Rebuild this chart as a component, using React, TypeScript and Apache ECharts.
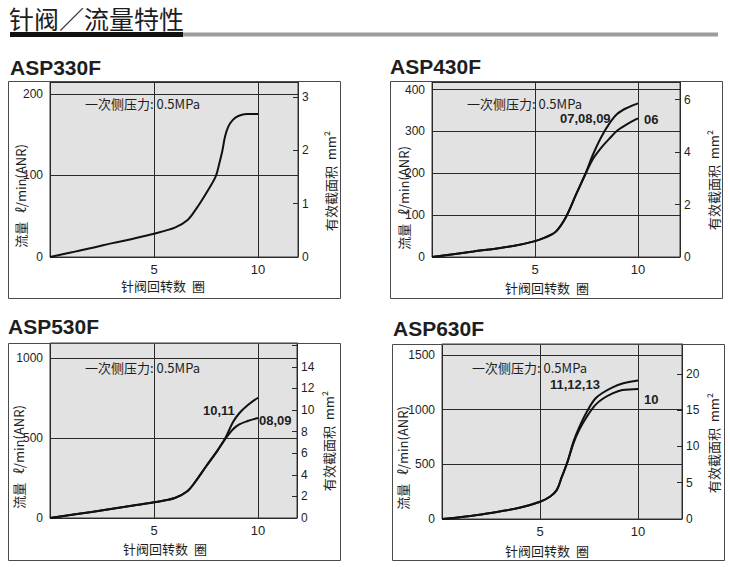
import React, { useEffect, useRef } from "react";
import * as echarts from "echarts";

// ---- data ----
const modelNames = ["ASP330F", "ASP430F", "ASP530F", "ASP630F"];
const pressureNote = "一次侧压力: 0.5MPa";
const xAxisTitle = "针阀回转数  圈";
const leftAxisTitle = "流量   ℓ/min(ANR)";
const rightAxisTitle = "有效截面积  mm²";
const pageTitle = "针阀／流量特性";

// ASP330F
const asp330Turns = [0, 1, 2, 3, 4, 5, 6, 6.6, 7.05, 7.5, 7.96, 8.14, 8.29, 8.41, 8.57, 8.78, 9.05, 9.46, 10];
const asp330Flow = [0, 5.5, 11, 17, 22.5, 28.5, 36, 45, 60, 78, 98.5, 115, 131, 147.6, 160, 168, 173, 175.5, 175.5];

// ASP430F
const asp430TurnsA = [0, 2, 4, 5, 5.5, 6, 6.5, 7, 7.5, 7.8, 8.2, 8.6, 9, 9.5, 10];
const asp430FlowA = [0, 13, 27, 38, 47, 60, 95, 150, 205, 243, 285, 318, 342, 357, 367];
const asp430TurnsB = [0, 2, 4, 5, 5.5, 6, 6.5, 7, 7.5, 7.8, 8.2, 8.6, 9, 9.5, 10];
const asp430FlowB = [0, 13, 27, 38, 47, 60, 95, 150, 203, 233, 260, 282, 302, 318, 331];
const asp430Labels = ["07,08,09", "06"];

// ASP530F
const asp530TurnsA = [0, 2, 4, 5, 6, 6.6, 7, 7.5, 8, 8.4, 8.8, 9.1, 9.5, 10];
const asp530FlowA = [0, 38, 78, 98, 125, 167, 229, 322, 412, 492, 600, 655, 705, 752];
const asp530TurnsB = [0, 2, 4, 5, 6, 6.6, 7, 7.5, 8, 8.4, 8.8, 9.1, 9.5, 10];
const asp530FlowB = [0, 38, 78, 98, 125, 167, 229, 322, 412, 490, 555, 585, 606, 625];
const asp530Labels = ["10,11", "08,09"];

// ASP630F
const asp630TurnsA = [0, 1, 2, 3, 4, 5, 5.5, 5.85, 6.1, 6.4, 6.7, 7, 7.4, 7.8, 8.2, 8.7, 9.2, 10];
const asp630FlowA = [0, 18, 42, 70, 105, 158, 204, 264, 380, 525, 705, 840, 985, 1098, 1155, 1205, 1240, 1268];
const asp630TurnsB = [0, 1, 2, 3, 4, 5, 5.5, 5.85, 6.1, 6.4, 6.7, 7, 7.4, 7.8, 8.2, 8.7, 9.2, 10];
const asp630FlowB = [0, 18, 42, 70, 105, 158, 204, 264, 380, 520, 690, 815, 940, 1040, 1100, 1150, 1180, 1190];
const asp630Labels = ["11,12,13", "10"];

// highest labelled value of each right-hand (mm²) axis
const rightAxisTopLabel = [3, 6, 14, 20];

// ---- layout (positions / sizes) ----
const FONT = '"Liberation Sans", "Noto Sans CJK SC", "DejaVu Sans", sans-serif';
const CJK = '"Noto Sans CJK SC", "Liberation Sans", sans-serif';
const INK = "#1e1e1e";

type Panel = {
  grid: { left: number; top: number; width: number; height: number };
  box: [number, number, number, number];
  xMax: number;
  yMax: number;
  yInt: number;
  rMax: number;
  rInt: number;
  title: [number, number];
  xName: [number, number];
  lName: [number, number];
  rName: [number, number];
  note: [number, number];
  series: { x: number[]; y: number[] }[];
  labels: { text: string; x: number; y: number }[];
};

const panels: Panel[] = [
  {
    grid: { left: 50, top: 82, width: 248, height: 175 },
    box: [8, 81, 332, 217],
    xMax: 11.92, yMax: 214.7, yInt: 100, rMax: 3.28, rInt: 1,
    title: [10, 67], xName: [163, 285], lName: [20, 196], rName: [330, 181], note: [85, 103],
    series: [{ x: asp330Turns, y: asp330Flow }],
    labels: [],
  },
  {
    grid: { left: 432, top: 82, width: 248, height: 175 },
    box: [390, 81, 332, 217],
    xMax: 12.04, yMax: 418, yInt: 100, rMax: 6.67, rInt: 2,
    title: [390, 66], xName: [547, 287], lName: [403, 198], rName: [713, 180], note: [467, 103],
    series: [{ x: asp430TurnsA, y: asp430FlowA }, { x: asp430TurnsB, y: asp430FlowB }],
    labels: [
      { text: asp430Labels[0], x: 560, y: 118 },
      { text: asp430Labels[1], x: 644, y: 119 },
    ],
  },
  {
    grid: { left: 50, top: 343, width: 247, height: 175 },
    box: [8, 343, 332, 217],
    xMax: 11.875, yMax: 1094, yInt: 500, rMax: 16.2, rInt: 2,
    title: [8, 326], xName: [165, 548], lName: [18, 457], rName: [328, 441], note: [85, 367],
    series: [{ x: asp530TurnsA, y: asp530FlowA }, { x: asp530TurnsB, y: asp530FlowB }],
    labels: [
      { text: asp530Labels[0], x: 203, y: 410 },
      { text: asp530Labels[1], x: 259, y: 420 },
    ],
  },
  {
    grid: { left: 442, top: 344, width: 240, height: 175 },
    box: [392, 344, 332, 216],
    xMax: 12.24, yMax: 1601, yInt: 500, rMax: 24.1, rInt: 5,
    title: [393, 328], xName: [547, 550], lName: [402, 458], rName: [713, 443], note: [472, 367],
    series: [{ x: asp630TurnsA, y: asp630FlowA }, { x: asp630TurnsB, y: asp630FlowB }],
    labels: [
      { text: asp630Labels[0], x: 550, y: 384 },
      { text: asp630Labels[1], x: 644, y: 399 },
    ],
  },
];

function txt(text: string, x: number, y: number, font: string, align = "left", rotation = 0, fill = INK) {
  return {
    type: "text",
    x,
    y,
    rotation,
    z: 10,
    style: {
      text,
      font,
      fill,
      textAlign: align,
      textVerticalAlign: "middle",
      align,
      verticalAlign: "middle",
    },
  };
}

function buildOption() {
  const grid: any[] = [];
  const xAxis: any[] = [];
  const yAxis: any[] = [];
  const series: any[] = [];
  const graphic: any[] = [];

  graphic.push(txt(pageTitle, 9, 18, `400 25px ${CJK}`));
  graphic.push({ type: "rect", shape: { x: 10, y: 32, width: 173, height: 5 }, style: { fill: "#111" } });
  graphic.push({ type: "rect", shape: { x: 183, y: 32.5, width: 535, height: 4 }, style: { fill: "#9c9c9c" } });

  panels.forEach((p, i) => {
    grid.push({
      ...p.grid,
      show: true,
      backgroundColor: "#e2e2e2",
      borderColor: "#3a3a3a",
      borderWidth: 1,
      containLabel: false,
    });
    xAxis.push({
      type: "value",
      gridIndex: i,
      min: 0,
      max: p.xMax,
      interval: 5,
      axisLine: { show: false },
      axisTick: { show: false },
      axisLabel: {
        margin: 6,
        fontSize: 13,
        fontFamily: FONT,
        color: INK,
        showMaxLabel: false,
        formatter: (v: number) => (v === 0 ? "" : String(v)),
      },
      splitLine: { show: true, lineStyle: { color: "#2a2a2a", width: 1 } },
    });
    yAxis.push({
      type: "value",
      gridIndex: i,
      position: "left",
      min: 0,
      max: p.yMax,
      interval: p.yInt,
      axisLine: { show: false },
      axisTick: { show: false },
      axisLabel: {
        margin: 7,
        fontSize: 12,
        fontFamily: FONT,
        color: INK,
        showMaxLabel: false,
        formatter: (v: number) => String(v),
      },
      splitLine: { show: true, lineStyle: { color: "#2a2a2a", width: 1 } },
    });
    const topLabel = rightAxisTopLabel[i];
    yAxis.push({
      type: "value",
      gridIndex: i,
      position: "right",
      min: 0,
      max: p.rMax,
      interval: p.rInt,
      axisLine: { show: true, lineStyle: { color: "#2a2a2a", width: 1 } },
      axisTick: { show: true, inside: true, length: 5, lineStyle: { color: "#2a2a2a" } },
      axisLabel: {
        margin: 4,
        fontSize: 12,
        fontFamily: FONT,
        color: INK,
        showMaxLabel: false,
        formatter: (v: number) => (v > topLabel ? "" : String(v)),
      },
      splitLine: { show: false },
    });
    p.series.forEach((s) => {
      series.push({
        type: "line",
        xAxisIndex: i,
        yAxisIndex: 2 * i,
        data: s.x.map((x, k) => [x, s.y[k]]),
        showSymbol: false,
        smooth: 0.35,
        lineStyle: { color: "#111", width: 2 },
        z: 5,
      });
    });

    const [bx, by, bw, bh] = p.box;
    graphic.push({
      type: "rect",
      shape: { x: bx + 0.5, y: by + 0.5, width: bw, height: bh },
      style: { fill: "none", stroke: "#4a4a4a", lineWidth: 1 },
      z: 8,
    });
    graphic.push(txt(modelNames[i], p.title[0], p.title[1], `bold 21px ${FONT}`));
    graphic.push(txt(xAxisTitle, p.xName[0], p.xName[1], `13px ${CJK}`, "center"));
    graphic.push(txt(leftAxisTitle, p.lName[0], p.lName[1], `13px ${CJK}`, "center", Math.PI / 2));
    graphic.push(txt(rightAxisTitle, p.rName[0], p.rName[1], `13px ${CJK}`, "center", Math.PI / 2));
    graphic.push(txt(pressureNote, p.note[0], p.note[1], `13px ${CJK}`));
    p.labels.forEach((l) => graphic.push(txt(l.text, l.x, l.y, `bold 13px ${FONT}`)));
  });

  return { animation: false, grid, xAxis, yAxis, series, graphic };
}

export default function App() {
  const ref = useRef<HTMLDivElement>(null);
  useEffect(() => {
    if (!ref.current) return;
    const chart = echarts.init(ref.current, undefined, { renderer: "svg" });
    chart.setOption(buildOption() as any);
    return () => chart.dispose();
  }, []);
  return (
    <div
      ref={ref}
      style={{ position: "absolute", left: 0, top: 0, width: 730, height: 567, background: "#fff" }}
    />
  );
}
